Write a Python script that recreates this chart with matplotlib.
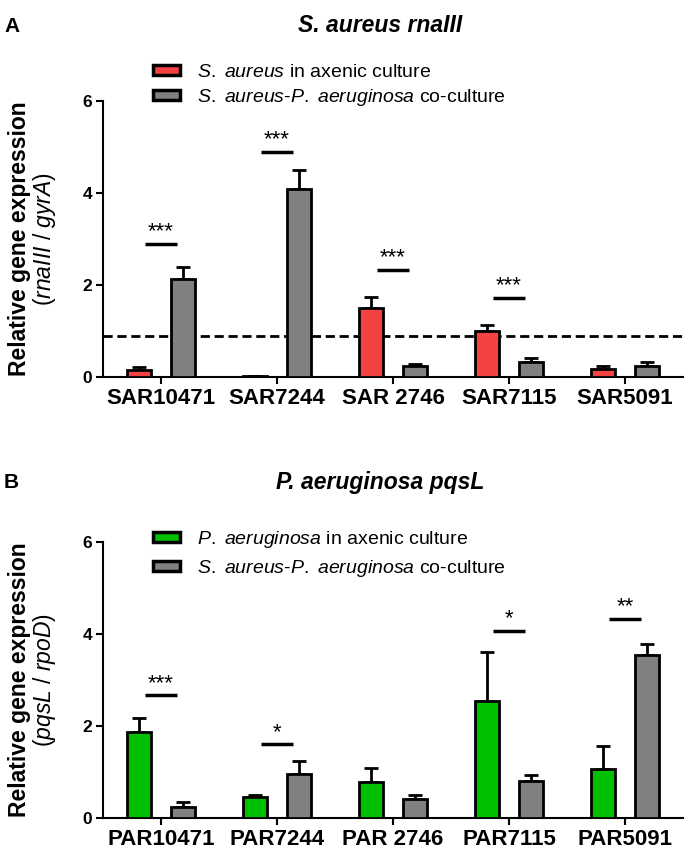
import numpy as np
import matplotlib
matplotlib.use("Agg")
import matplotlib.pyplot as plt
from matplotlib.patches import Patch

plt.rcParams['font.family'] = ['Liberation Sans', 'DejaVu Sans']
plt.rcParams['mathtext.fontset'] = 'custom'
plt.rcParams['mathtext.rm'] = 'Liberation Sans'
plt.rcParams['mathtext.it'] = 'Liberation Sans:italic'
plt.rcParams['mathtext.bf'] = 'Liberation Sans:bold'

# panel A - S. aureus rnaIII
genes_a = ['SAR10471', 'SAR7244', 'SAR 2746', 'SAR7115', 'SAR5091']
axenic_a = [0.16, 0.03, 1.51, 1.00, 0.18]
axenic_a_err = [0.05, 0.0, 0.24, 0.12, 0.05]
cocult_a = [2.12, 4.09, 0.23, 0.33, 0.25]
cocult_a_err = [0.27, 0.42, 0.06, 0.08, 0.07]
sig_a = ['***', '***', '***', '***', '']
sig_a_y = [2.89, 4.90, 2.33, 1.72, np.nan]
baseline_a = 0.9

# panel B - P. aeruginosa pqsL
genes_b = ['PAR10471', 'PAR7244', 'PAR 2746', 'PAR7115', 'PAR5091']
axenic_b = [1.87, 0.46, 0.78, 2.54, 1.07]
axenic_b_err = [0.31, 0.05, 0.31, 1.06, 0.50]
cocult_b = [0.24, 0.95, 0.42, 0.80, 3.55]
cocult_b_err = [0.11, 0.30, 0.07, 0.13, 0.24]
sig_b = ['***', '*', '', '*', '**']
sig_b_y = [2.67, 1.60, np.nan, 4.07, 4.33]

RED = '#F44242'
GREEN = '#00C000'
GRAY = '#808080'

W, H = 685, 859
fig = plt.figure(figsize=(W / 100, H / 100), dpi=100)


def panel(ax, genes, v1, e1, v2, e2, sig, sig_y, col1):
    x = np.arange(len(genes))
    off, bw = 0.19, 0.21
    ax.bar(x - off, v1, bw, color=col1, edgecolor='black', linewidth=2, zorder=3)
    ax.bar(x + off, v2, bw, color=GRAY, edgecolor='black', linewidth=2, zorder=3)
    for xs, v, e in [(x - off, v1, e1), (x + off, v2, e2)]:
        ax.errorbar(xs, v, yerr=[np.zeros(len(v)), e], fmt='none', ecolor='black',
                    elinewidth=2, capsize=5, capthick=2, zorder=2)
    for i, (s, y) in enumerate(zip(sig, sig_y)):
        if not s:
            continue
        ax.plot([i - 0.135, i + 0.135], [y, y], color='black', lw=2.5, solid_capstyle='butt')
        ax.annotate(s, xy=(i, y), xytext=(0, 1), textcoords='offset points',
                    ha='center', va='bottom', fontsize=16)
    ax.set_xlim(-0.5, len(genes) - 0.5)
    ax.set_ylim(0, 6)
    ax.set_yticks([0, 2, 4, 6])
    ax.set_xticks(x)
    ax.set_xticklabels(genes, fontsize=16, fontweight='bold')
    for t in ax.get_yticklabels():
        t.set_fontsize(12.5)
        t.set_fontweight('bold')
    ax.spines[['top', 'right']].set_visible(False)
    ax.spines[['left', 'bottom']].set_linewidth(1.5)
    ax.tick_params(direction='out', length=5, width=1.5, pad=3)
    ax.tick_params(axis='x', pad=3)


ax_a = fig.add_axes([103 / W, 1 - 377 / H, 580 / W, 276 / H])
ax_b = fig.add_axes([103 / W, 1 - 818 / H, 580 / W, 276 / H])

panel(ax_a, genes_a, axenic_a, axenic_a_err, cocult_a, cocult_a_err, sig_a, sig_a_y, RED)
ax_a.axhline(baseline_a, color='black', lw=2, dashes=(3.3, 1.7), zorder=1)
panel(ax_b, genes_b, axenic_b, axenic_b_err, cocult_b, cocult_b_err, sig_b, sig_b_y, GREEN)

# titles, panel letters
fig.text(380 / W, 1 - 26 / H, 'S. aureus rnaIII', ha='center', va='center',
         fontsize=16.5, fontweight='bold', fontstyle='italic')
fig.text(380 / W, 1 - 482 / H, 'P. aeruginosa pqsL', ha='center', va='center',
         fontsize=16.5, fontweight='bold', fontstyle='italic')
fig.text(4 / W, 1 - 27 / H, 'A', ha='left', va='center', fontsize=15, fontweight='bold')
fig.text(4 / W, 1 - 483 / H, 'B', ha='left', va='center', fontsize=15, fontweight='bold')

# y labels: bold first line, regular second line with italic gene names
for yc, genes2 in [(239, '$\\mathit{rnaIII}$ / $\\mathit{gyrA}$'),
                   (680, '$\\mathit{pqsL}$ / $\\mathit{rpoD}$')]:
    fig.text(20 / W, 1 - yc / H, 'Relative gene expression', rotation=90,
             ha='center', va='center', fontsize=16.5, fontweight='bold')
    fig.text(44 / W, 1 - yc / H, '(' + genes2 + ')', rotation=90,
             ha='center', va='center', fontsize=16.5)

# legends
co_label = '$\\mathit{S.}$ $\\mathit{aureus}$-$\\mathit{P.}$ $\\mathit{aeruginosa}$ co-culture'
h_a = [Patch(facecolor=RED, edgecolor='black', linewidth=2.5),
       Patch(facecolor=GRAY, edgecolor='black', linewidth=2.5)]
ax_a.legend(h_a, ['$\\mathit{S.}$ $\\mathit{aureus}$ in axenic culture', co_label],
            loc='upper left', bbox_to_anchor=(153 / W, 1 - 64 / H), bbox_transform=fig.transFigure,
            frameon=False, borderpad=0, borderaxespad=0, handlelength=1.4, handleheight=0.4,
            handletextpad=0.85, labelspacing=0.3, fontsize=14)
h_b = [Patch(facecolor=GREEN, edgecolor='black', linewidth=2.5),
       Patch(facecolor=GRAY, edgecolor='black', linewidth=2.5)]
ax_b.legend(h_b, ['$\\mathit{P.}$ $\\mathit{aeruginosa}$ in axenic culture', co_label],
            loc='upper left', bbox_to_anchor=(153 / W, 1 - 529 / H), bbox_transform=fig.transFigure,
            frameon=False, borderpad=0, borderaxespad=0, handlelength=1.4, handleheight=0.4,
            handletextpad=0.85, labelspacing=0.42, fontsize=14)

fig.savefig('out.png', dpi=100)
